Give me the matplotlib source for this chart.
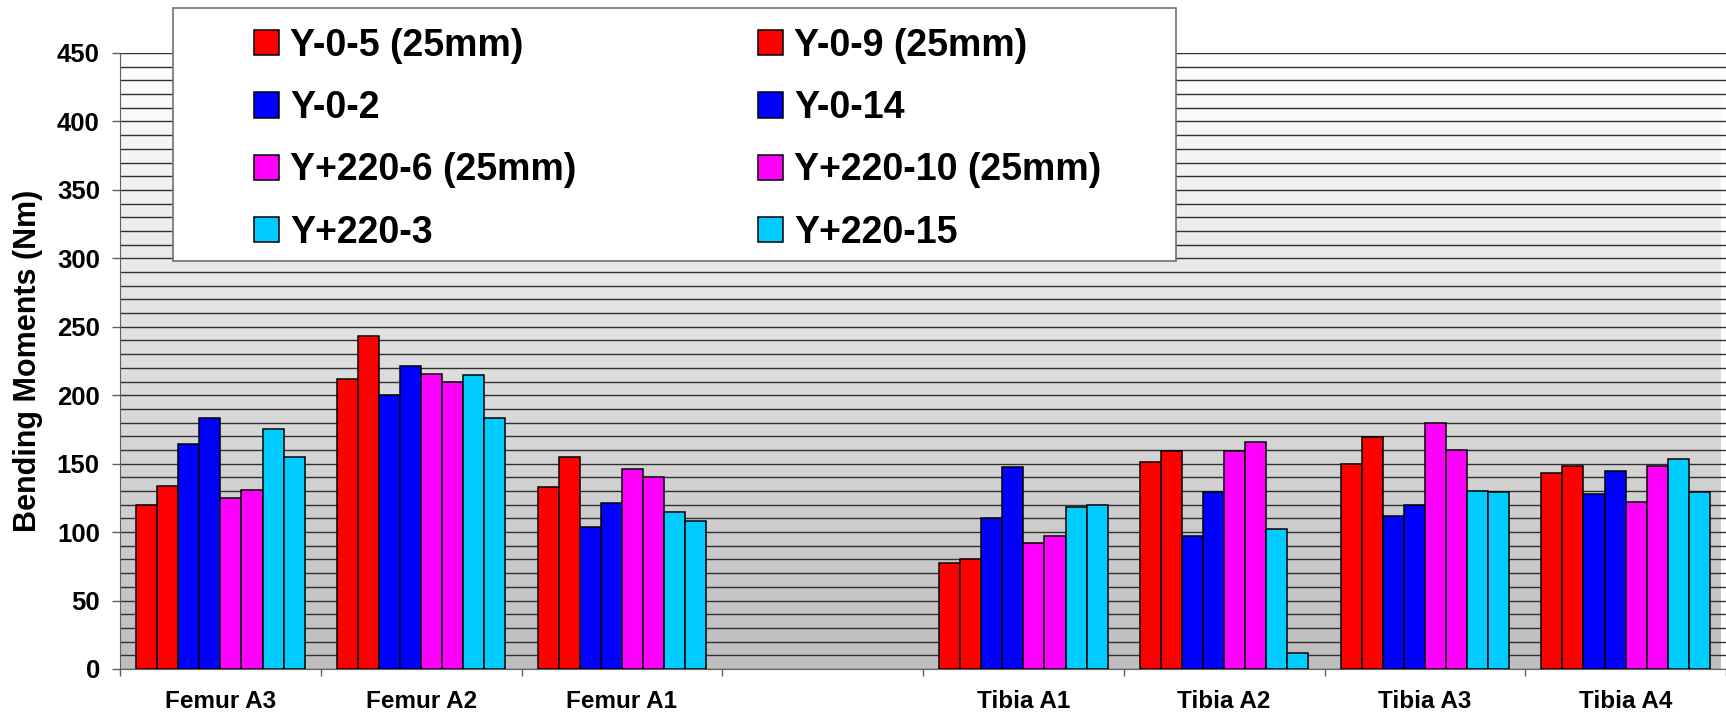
import matplotlib

matplotlib.use("Agg")
import matplotlib.pyplot as plt
import numpy as np
from matplotlib.colors import LinearSegmentedColormap
from matplotlib.patches import Rectangle
from matplotlib.ticker import MultipleLocator


categories = ["Femur A3", "Femur A2", "Femur A1", "", "Tibia A1", "Tibia A2", "Tibia A3", "Tibia A4"]
series_names = [
    "Y-0-5 (25mm)",
    "Y-0-9 (25mm)",
    "Y-0-2",
    "Y-0-14",
    "Y+220-6 (25mm)",
    "Y+220-10 (25mm)",
    "Y+220-3",
    "Y+220-15",
]
nan = np.nan
y_0_5 = [119.5, 212, 133, nan, 77.5, 151.5, 150, 143.5]
y_0_9 = [134, 243, 155, nan, 80, 159.5, 169.5, 148.5]
y_0_2 = [164.5, 200, 104, nan, 110.5, 97.5, 112, 127.5]
y_0_14 = [183, 221, 121, nan, 147.5, 129, 119.5, 145]
y_220_6 = [125, 215.5, 146, nan, 92, 159.5, 180, 122]
y_220_10 = [130.5, 209.5, 140.5, nan, 97, 166, 160, 148.5]
y_220_3 = [175, 214.5, 114.5, nan, 118, 102.5, 130, 153.5]
y_220_15 = [155, 183, 108, nan, 119.5, 12, 129, 129]
series_values = [y_0_5, y_0_9, y_0_2, y_0_14, y_220_6, y_220_10, y_220_3, y_220_15]
series_colors = ["#ff0000", "#ff0000", "#0000ff", "#0000ff", "#ff00ff", "#ff00ff", "#00ccff", "#00ccff"]

plt.rcParams["font.family"] = ["Liberation Sans", "DejaVu Sans"]
plt.rcParams["font.weight"] = "bold"

fig = plt.figure(figsize=(17.26, 7.18), dpi=100)
ax = fig.add_axes([120 / 1726, 49 / 718, 1606 / 1726, 616 / 718])

x_min, x_max = -0.5, -0.5 + 1606 / 201.5
y_max = 450

# gray gradient behind the bars (white at the top, gray at the bottom)
gradient = np.linspace(0, 1, 256).reshape(-1, 1)
cmap = LinearSegmentedColormap.from_list("bg", ["#ffffff", "#bebebe"])
ax.imshow(gradient, cmap=cmap, aspect="auto", origin="upper",
          extent=(x_min, x_max, 0, y_max), zorder=0)

positions = np.arange(len(categories))
bar_width = 0.105
containers = []
for index, (name, values, color) in enumerate(zip(series_names, series_values, series_colors)):
    offset = (index - 3.5) * bar_width
    bars = ax.bar(
        positions + offset,
        values,
        width=bar_width,
        color=color,
        edgecolor="black",
        linewidth=1.1,
        label=name,
        zorder=3,
    )
    containers.append(bars)

ax.set_xlim(x_min, x_max)
ax.set_ylim(0, y_max)

ax.set_axisbelow(True)
ax.yaxis.set_major_locator(MultipleLocator(50))
ax.yaxis.set_minor_locator(MultipleLocator(10))
ax.grid(axis="y", which="both", color="#303030", linewidth=1.0)

ax.set_xticks(positions)
ax.set_xticklabels(categories, fontsize=17.5, fontweight="bold")
ax.set_xticks(np.arange(-0.5, len(categories)), minor=True)
ax.tick_params(axis="x", which="major", length=0, pad=15)
ax.tick_params(axis="x", which="minor", length=5, width=1, color="#606060")
ax.tick_params(axis="y", which="major", length=6, width=1, pad=8.5,
               labelsize=18.5, color="#606060")
ax.tick_params(axis="y", which="minor", length=0)

ax.set_ylabel("Bending Moments (Nm)", fontsize=22, fontweight="bold", labelpad=10)

for side in ["top", "right"]:
    ax.spines[side].set_visible(False)
ax.spines["left"].set_color("#606060")
ax.spines["bottom"].set_color("#606060")

# legend box drawn separately so its padding can match the original
legend_box = Rectangle(
    (173 / 1726, 1 - 261 / 718),
    1003 / 1726,
    253 / 718,
    transform=fig.transFigure,
    facecolor="white",
    edgecolor="#707070",
    linewidth=1.2,
    zorder=4,
    clip_on=False,
)
ax.add_patch(legend_box)

order = [0, 2, 4, 6, 1, 3, 5, 7]
legend = ax.legend(
    [containers[i] for i in order],
    [series_names[i] for i in order],
    ncol=2,
    loc="upper left",
    bbox_to_anchor=(254 / 1726, 1 - 28 / 718),
    bbox_transform=fig.transFigure,
    frameon=False,
    borderpad=0,
    borderaxespad=0,
    handlelength=0.66,
    handleheight=0.66,
    handletextpad=0.3,
    labelspacing=0.7,
    columnspacing=4.85,
    prop={"weight": "bold", "size": 27},
)
legend.set_zorder(5)

fig.savefig("out.png", dpi=100)
